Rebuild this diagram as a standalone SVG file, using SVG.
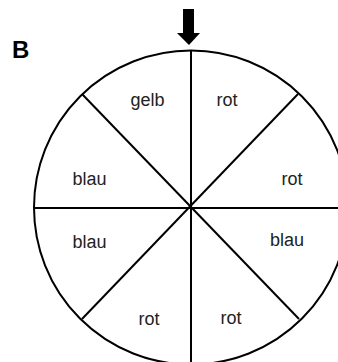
<svg xmlns="http://www.w3.org/2000/svg" width="338" height="362" viewBox="0 0 338 362">
<style>
.l{stroke:#000;stroke-width:2;fill:none}
.t{font-family:"Liberation Sans",Arial,sans-serif;font-size:18px;fill:#222;text-anchor:middle}
.h{font-family:"Liberation Sans",Arial,sans-serif;font-size:24px;font-weight:bold;fill:#000}
</style>
<rect width="338" height="362" fill="#fff"/>
<text class="h" x="12" y="57.5">B</text>
<g id="wheel">
<circle class="l" cx="191" cy="207.5" r="157"/>
</g>
<g id="connectors">
<line class="l" x1="191" y1="50" x2="191" y2="365"/>
<line class="l" x1="34" y1="208" x2="348" y2="208"/>
<line class="l" x1="82" y1="94" x2="299" y2="319"/>
<line class="l" x1="298" y1="94" x2="82" y2="319"/>
</g>
<g id="pointer">
<polygon points="183,9 194,9 194,33 200,33 189,45 177,33 183,33" fill="#000"/>
</g>
<g id="labels">
<text class="t" x="147.5" y="106">gelb</text>
<text class="t" x="227" y="106">rot</text>
<text class="t" x="89.5" y="185">blau</text>
<text class="t" x="292" y="185">rot</text>
<text class="t" x="89.5" y="248">blau</text>
<text class="t" x="287" y="246">blau</text>
<text class="t" x="149" y="325">rot</text>
<text class="t" x="231" y="324">rot</text>
</g>
</svg>
